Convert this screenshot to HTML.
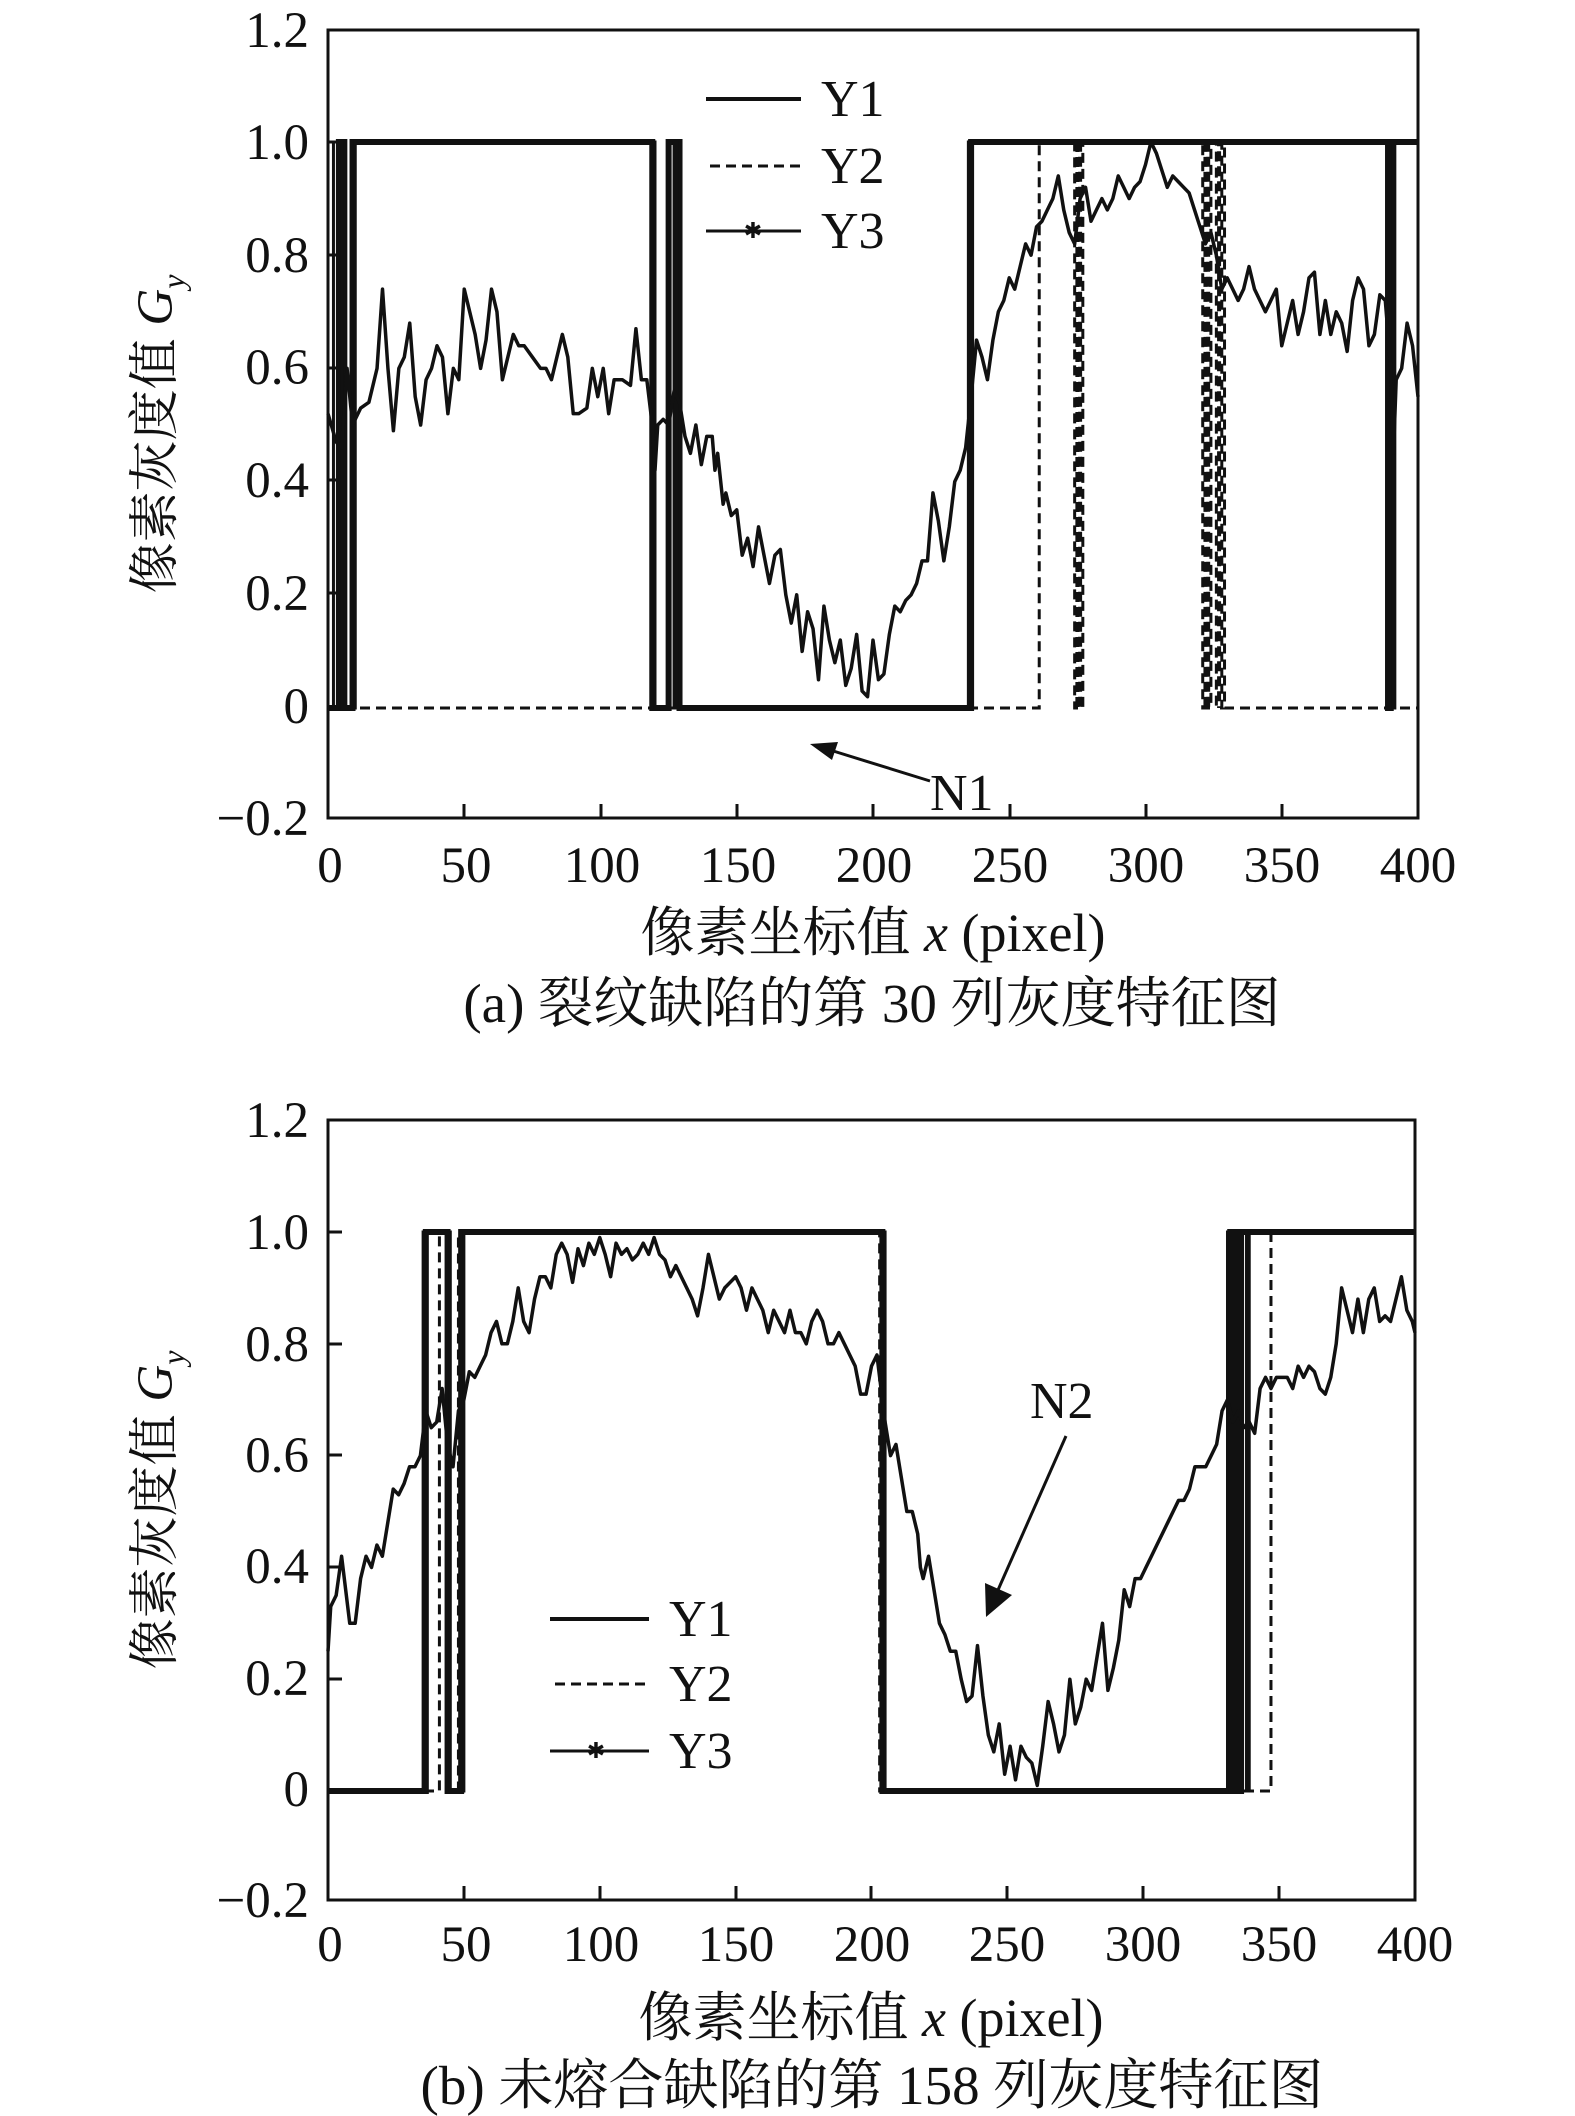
<!DOCTYPE html>
<html><head><meta charset="utf-8">
<style>
html,body{margin:0;padding:0;background:#fff;}
svg{display:block;}
text{font-family:"Liberation Serif","Noto Serif CJK SC",serif;fill:#111;}
.cj{font-family:"Liberation Serif","Noto Serif CJK SC","Noto Sans CJK SC",serif;}
</style></head>
<body>
<svg width="1575" height="2116" viewBox="0 0 1575 2116" xmlns="http://www.w3.org/2000/svg">
<!-- ============ PLOT A ============ -->
<g font-size="51" text-anchor="end">
<text x="309" y="47">1.2</text>
<text x="309" y="159">1.0</text>
<text x="309" y="272">0.8</text>
<text x="309" y="384">0.6</text>
<text x="309" y="497">0.4</text>
<text x="309" y="610">0.2</text>
<text x="309" y="723">0</text>
<text x="309" y="835">−0.2</text>
</g>
<g font-size="51" text-anchor="middle">
<text x="330" y="882">0</text><text x="466" y="882">50</text><text x="602" y="882">100</text>
<text x="738" y="882">150</text><text x="874" y="882">200</text><text x="1010" y="882">250</text>
<text x="1146" y="882">300</text><text x="1282" y="882">350</text><text x="1418" y="882">400</text>
</g>
<text x="873" y="951" font-size="54" text-anchor="middle" class="cj">像素坐标值 <tspan font-style="italic">x</tspan> (pixel)</text>
<text x="872" y="1022" font-size="55" text-anchor="middle" class="cj">(a) 裂纹缺陷的第 30 列灰度特征图</text>
<text transform="translate(172,434) rotate(-90)" font-size="51" text-anchor="middle" class="cj">像素灰度值 <tspan font-style="italic">G</tspan><tspan font-style="italic" font-size="32" dy="12">y</tspan></text>

<rect x="328" y="30" width="1090" height="788" fill="none" stroke="#111" stroke-width="3"/>
<g stroke="#111" stroke-width="3">
<line x1="328" y1="142" x2="342" y2="142"/><line x1="328" y1="255" x2="342" y2="255"/>
<line x1="328" y1="368" x2="342" y2="368"/><line x1="328" y1="480" x2="342" y2="480"/>
<line x1="328" y1="593" x2="342" y2="593"/><line x1="328" y1="708" x2="342" y2="708"/>
<line x1="464" y1="818" x2="464" y2="804"/><line x1="601" y1="818" x2="601" y2="804"/>
<line x1="737" y1="818" x2="737" y2="804"/><line x1="873" y1="818" x2="873" y2="804"/>
<line x1="1010" y1="818" x2="1010" y2="804"/><line x1="1146" y1="818" x2="1146" y2="804"/>
<line x1="1282" y1="818" x2="1282" y2="804"/>
</g>
<g transform="translate(328,708) scale(2.725,-566)" fill="none" stroke="#111">
<polyline vector-effect="non-scaling-stroke" stroke-width="3" stroke-dasharray="10,6" points="0,0 261,0 261,1 274,1 274,0 277,0 277,1 321,1 321,0 324,0 324,1 326,1 326,0 328,0 328,1 329,1 329,0 400,0"/>
<polyline vector-effect="non-scaling-stroke" stroke-width="4" stroke-dasharray="10,5" points="275,1 275,0 276,0 276,1 322,1 322,0 323,0 323,1 327,1 327,0"/>
<polyline vector-effect="non-scaling-stroke" stroke-width="6" points="0,0 4,0 4,1 6,1 6,0 9,0 9,1 119,1 119,0 125,0 125,1 129,1 129,0 236,0 236,1 389,1 389,0 390,0 390,1 400,1"/>
<polyline vector-effect="non-scaling-stroke" stroke-width="3" points="2,0 2,1 5,1 5,0 10,0 10,1 120,1 120,0 127,0 127,1 128,1 128,0 235,0 235,1 391,1 391,0 391.5,0 391.5,1"/>
<polyline vector-effect="non-scaling-stroke" stroke-width="3.5" stroke-linejoin="round" points="0,0.52 3,0.47 5,0.46 7,0.6 9,0.5 12,0.53 15,0.54 18,0.6 20,0.74 22,0.6 24,0.49 26,0.6 28,0.62 30,0.68 32,0.55 34,0.5 36,0.58 38,0.6 40,0.64 42,0.62 44,0.52 46,0.6 48,0.58 50,0.74 52,0.7 54,0.66 56,0.6 58,0.65 60,0.74 62,0.7 64,0.58 66,0.62 68,0.66 70,0.64 72,0.64 75,0.62 78,0.6 80,0.6 82,0.58 84,0.62 86,0.66 88,0.62 90,0.52 92,0.52 95,0.53 97,0.6 99,0.55 101,0.6 103,0.52 105,0.58 108,0.58 111,0.57 113,0.67 115,0.58 117,0.58 119,0.5 120,0.42 121,0.5 123,0.51 125,0.5 127,0.56 129,0.54 131,0.48 133,0.45 135,0.5 137,0.43 139,0.48 141,0.48 142,0.42 143,0.45 145,0.36 146,0.38 148,0.34 150,0.35 152,0.27 154,0.3 156,0.25 158,0.32 160,0.27 162,0.22 164,0.27 166,0.28 168,0.2 170,0.15 172,0.2 174,0.1 176,0.17 178,0.14 180,0.05 182,0.18 184,0.12 186,0.08 188,0.12 190,0.04 192,0.07 194,0.13 196,0.03 198,0.02 200,0.12 202,0.05 204,0.06 206,0.13 208,0.18 210,0.17 212,0.19 214,0.2 216,0.22 218,0.26 220,0.26 222,0.38 224,0.33 226,0.26 228,0.32 230,0.4 232,0.42 234,0.46 236,0.55 238,0.65 240,0.62 242,0.58 244,0.65 246,0.7 248,0.72 250,0.76 252,0.74 254,0.78 256,0.82 258,0.8 260,0.85 262,0.86 264,0.88 266,0.9 268,0.94 270,0.88 272,0.84 274,0.82 276,0.9 278,0.92 280,0.86 282,0.88 284,0.9 286,0.88 288,0.9 290,0.94 292,0.92 294,0.9 296,0.92 298,0.93 300,0.96 302,1.0 304,0.98 306,0.95 308,0.92 310,0.94 312,0.93 314,0.92 316,0.91 318,0.88 320,0.85 322,0.82 324,0.84 326,0.8 328,0.74 330,0.76 332,0.74 334,0.72 336,0.74 338,0.78 340,0.74 342,0.72 344,0.7 346,0.72 348,0.74 350,0.64 352,0.68 354,0.72 356,0.66 358,0.7 360,0.76 362,0.77 364,0.66 366,0.72 368,0.66 370,0.7 372,0.68 374,0.63 376,0.72 378,0.76 380,0.74 382,0.64 384,0.66 386,0.73 388,0.72 390,0.6 391,0.45 392,0.58 394,0.6 396,0.68 398,0.64 400,0.55"/>
</g>
<line x1="706" y1="99" x2="801" y2="99" stroke="#111" stroke-width="4"/>
<line x1="710" y1="166" x2="801" y2="166" stroke="#111" stroke-width="3" stroke-dasharray="10,6"/>
<line x1="706" y1="231" x2="801" y2="231" stroke="#111" stroke-width="3"/>
<text x="753" y="238" font-size="22" text-anchor="middle">✱</text>
<g font-size="52"><text x="821" y="116">Y1</text><text x="821" y="183">Y2</text><text x="821" y="248">Y3</text></g>
<line x1="930" y1="781" x2="830" y2="750" stroke="#111" stroke-width="3"/>
<polygon points="810,744 838,742 832,760" fill="#111"/>
<text x="930" y="810" font-size="52">N1</text>

<!-- ============ PLOT B ============ -->
<g font-size="51" text-anchor="end">
<text x="309" y="1137">1.2</text>
<text x="309" y="1249">1.0</text>
<text x="309" y="1361">0.8</text>
<text x="309" y="1472">0.6</text>
<text x="309" y="1583">0.4</text>
<text x="309" y="1695">0.2</text>
<text x="309" y="1806">0</text>
<text x="309" y="1917">−0.2</text>
</g>
<g font-size="51" text-anchor="middle">
<text x="330" y="1961">0</text><text x="466" y="1961">50</text><text x="601" y="1961">100</text>
<text x="736" y="1961">150</text><text x="872" y="1961">200</text><text x="1007" y="1961">250</text>
<text x="1143" y="1961">300</text><text x="1279" y="1961">350</text><text x="1415" y="1961">400</text>
</g>
<text x="871" y="2036" font-size="54" text-anchor="middle" class="cj">像素坐标值 <tspan font-style="italic">x</tspan> (pixel)</text>
<text x="872" y="2104" font-size="55" text-anchor="middle" class="cj">(b) 未熔合缺陷的第 158 列灰度特征图</text>
<text transform="translate(172,1510) rotate(-90)" font-size="51" text-anchor="middle" class="cj">像素灰度值 <tspan font-style="italic">G</tspan><tspan font-style="italic" font-size="32" dy="12">y</tspan></text>

<rect x="328" y="1120" width="1087" height="780" fill="none" stroke="#111" stroke-width="3"/>
<g stroke="#111" stroke-width="3">
<line x1="328" y1="1232" x2="342" y2="1232"/><line x1="328" y1="1344" x2="342" y2="1344"/>
<line x1="328" y1="1455" x2="342" y2="1455"/><line x1="328" y1="1567" x2="342" y2="1567"/>
<line x1="328" y1="1679" x2="342" y2="1679"/><line x1="328" y1="1791" x2="342" y2="1791"/>
<line x1="464" y1="1900" x2="464" y2="1886"/><line x1="600" y1="1900" x2="600" y2="1886"/>
<line x1="736" y1="1900" x2="736" y2="1886"/><line x1="871" y1="1900" x2="871" y2="1886"/>
<line x1="1007" y1="1900" x2="1007" y2="1886"/><line x1="1143" y1="1900" x2="1143" y2="1886"/>
<line x1="1279" y1="1900" x2="1279" y2="1886"/>
</g>
<g transform="translate(328,1791) scale(2.7175,-559)" fill="none" stroke="#111">
<polyline vector-effect="non-scaling-stroke" stroke-width="3" stroke-dasharray="10,6" points="0,0 41,0 41,1 44,1 44,0 48,0 48,1 203,1 203,0 347,0 347,1 400,1"/>
<polyline vector-effect="non-scaling-stroke" stroke-width="6" points="0,0 36,0 36,1 44,1 44,0 49,0 49,1 204,1 204,0 332,0 332,1 334,1 334,0 336,0 336,1 338,1 338,1 400,1"/>
<polyline vector-effect="non-scaling-stroke" stroke-width="3" points="35,0 35,1 37,1 45,1 45,0 50,0 50,1 205,1 205,0 331,0 331,1 338,1 338,0 339,0 339,1"/>
<polyline vector-effect="non-scaling-stroke" stroke-width="3.5" stroke-linejoin="round" points="0,0.25 1,0.33 3,0.35 5,0.42 6,0.38 8,0.3 10,0.3 12,0.38 14,0.42 16,0.4 18,0.44 20,0.42 22,0.48 24,0.54 26,0.53 28,0.55 30,0.58 32,0.58 34,0.6 36,0.68 38,0.65 40,0.66 42,0.72 44,0.62 46,0.58 48,0.68 50,0.7 52,0.75 54,0.74 56,0.76 58,0.78 60,0.82 62,0.84 64,0.8 66,0.8 68,0.84 70,0.9 72,0.84 74,0.82 76,0.88 78,0.92 80,0.92 82,0.9 84,0.96 86,0.98 88,0.96 90,0.91 92,0.97 94,0.94 96,0.98 98,0.96 100,0.99 102,0.96 104,0.92 106,0.98 108,0.96 110,0.97 112,0.95 114,0.96 116,0.98 118,0.96 120,0.99 122,0.96 124,0.95 126,0.92 128,0.94 130,0.92 132,0.9 134,0.88 136,0.85 138,0.9 140,0.96 142,0.92 144,0.88 146,0.9 148,0.91 150,0.92 152,0.9 154,0.86 156,0.9 158,0.88 160,0.86 162,0.82 164,0.86 166,0.84 168,0.82 170,0.86 172,0.82 174,0.82 176,0.8 178,0.84 180,0.86 182,0.84 184,0.8 186,0.8 188,0.82 190,0.8 192,0.78 194,0.76 196,0.71 198,0.71 200,0.76 202,0.78 203,0.74 205,0.66 207,0.6 209,0.62 211,0.56 213,0.5 215,0.5 217,0.46 218,0.4 219,0.38 221,0.42 223,0.36 225,0.3 227,0.28 229,0.25 231,0.25 233,0.2 235,0.16 237,0.17 239,0.26 241,0.17 243,0.1 245,0.07 247,0.12 249,0.03 251,0.08 253,0.02 255,0.08 257,0.06 259,0.05 261,0.01 263,0.08 265,0.16 267,0.12 269,0.07 271,0.1 273,0.2 275,0.12 277,0.15 279,0.2 281,0.18 283,0.24 285,0.3 287,0.18 289,0.22 291,0.27 293,0.36 295,0.33 297,0.38 299,0.38 301,0.4 303,0.42 305,0.44 307,0.46 309,0.48 311,0.5 313,0.52 315,0.52 317,0.54 319,0.58 321,0.58 323,0.58 325,0.6 327,0.62 329,0.68 331,0.7 333,0.66 335,0.68 337,0.65 339,0.66 341,0.64 343,0.72 345,0.74 347,0.72 349,0.74 351,0.74 353,0.74 355,0.72 357,0.76 359,0.74 361,0.76 363,0.75 365,0.72 367,0.71 369,0.74 371,0.8 373,0.9 375,0.86 377,0.82 379,0.88 381,0.82 383,0.88 385,0.9 387,0.84 389,0.85 391,0.84 393,0.88 395,0.92 397,0.86 399,0.84 400,0.82"/>
</g>
<line x1="550" y1="1619" x2="649" y2="1619" stroke="#111" stroke-width="4"/>
<line x1="555" y1="1684" x2="649" y2="1684" stroke="#111" stroke-width="3" stroke-dasharray="10,6"/>
<line x1="550" y1="1751" x2="649" y2="1751" stroke="#111" stroke-width="3"/>
<text x="596" y="1758" font-size="22" text-anchor="middle">✱</text>
<g font-size="52"><text x="669" y="1636">Y1</text><text x="669" y="1701">Y2</text><text x="669" y="1768">Y3</text></g>
<text x="1030" y="1418" font-size="52">N2</text>
<line x1="1066" y1="1436" x2="998" y2="1590" stroke="#111" stroke-width="3"/>
<polygon points="986,1617 985,1583 1012,1595" fill="#111"/>
</svg>
</body></html>
